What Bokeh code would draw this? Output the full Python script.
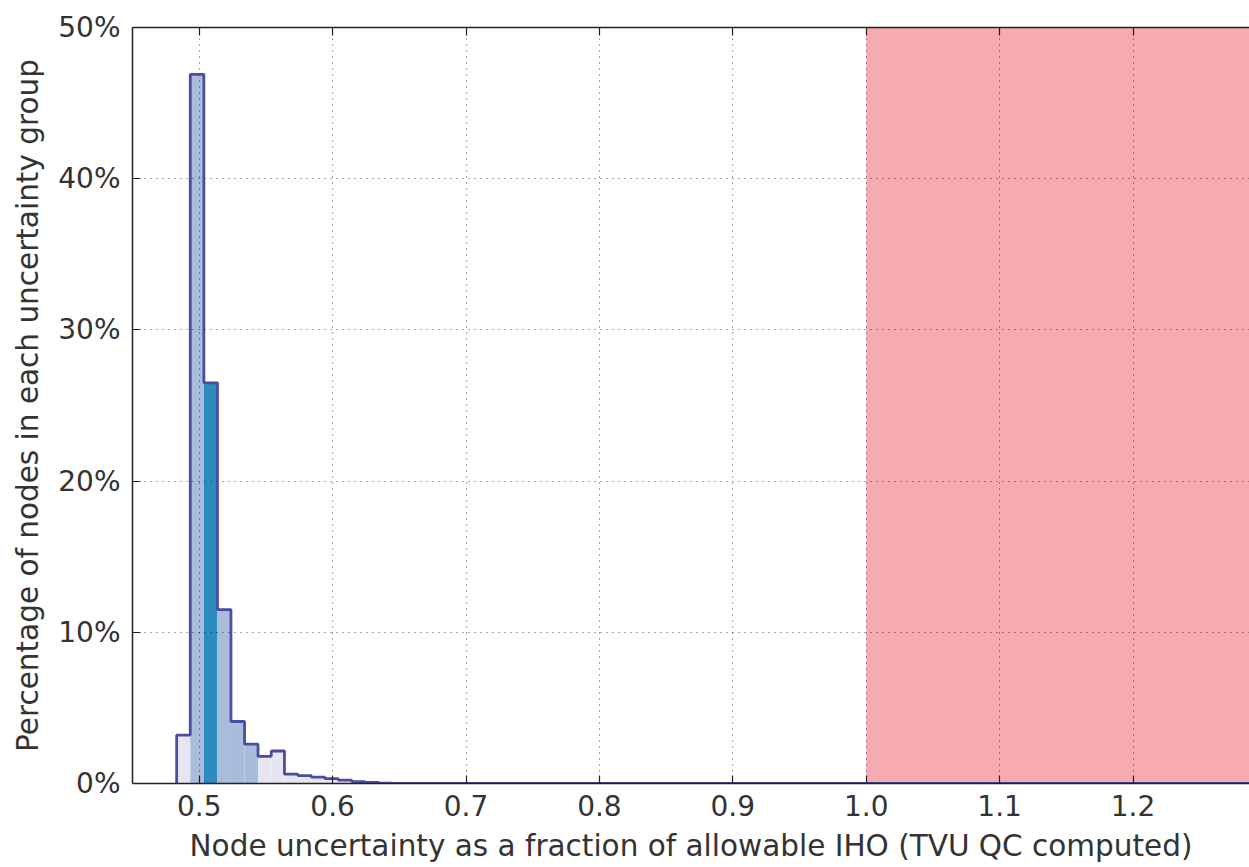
from bokeh.plotting import figure
from bokeh.models import (Range1d, LinearAxis, BoxAnnotation, PrintfTickFormatter,
                          FixedTicker, ColumnDataSource)
from bokeh.embed import file_html
from bokeh.resources import INLINE

# ---- data ----
bin_edges = [0.4831, 0.4933, 0.5035, 0.5137, 0.5238, 0.5340, 0.5441, 0.5540, 0.5639,
             0.5740, 0.5841, 0.5942, 0.6043, 0.6144, 0.6245, 0.6346, 0.6447, 0.6548]
pct_nodes = [3.2, 46.9, 26.5, 11.5, 4.1, 2.6, 1.8, 2.15,
             0.62, 0.52, 0.42, 0.32, 0.22, 0.12, 0.07, 0.03, 0.01]
bin_group = ["outer", "inner", "center", "inner", "inner", "inner", "outer", "outer",
             "outer", "outer", "outer", "outer", "outer", "outer", "outer", "outer", "outer"]
fail_threshold = 1.0
x_ticks = [0.5, 0.6, 0.7, 0.8, 0.9, 1.0, 1.1, 1.2]
y_ticks = [0, 10, 20, 30, 40, 50]

group_colors = {"outer": "#e8e5f2", "inner": "#a9bcdc", "center": "#2c8bbf"}
OUTLINE = "#4b4e9e"
FONT = "DejaVu Sans"
TXT = "#333333"

x_start, x_end = 0.45, 1.2873

p = figure(frame_width=1117, frame_height=756, output_backend="svg", toolbar_location=None,
           x_range=Range1d(x_start, x_end), y_range=Range1d(0, 50),
           min_border_left=132, min_border_right=0, min_border_top=27, min_border_bottom=84,
           background_fill_color="white", border_fill_color="white")
p.outline_line_color = None

# failing region
p.add_layout(BoxAnnotation(left=fail_threshold, fill_color="#f5abaf", fill_alpha=1.0,
                           line_color=None, level="underlay"))

# histogram fills
src = ColumnDataSource(dict(
    left=bin_edges[:-1], right=bin_edges[1:], top=pct_nodes,
    color=[group_colors[g] for g in bin_group]))
p.quad(left="left", right="right", top="top", bottom=0, fill_color="color",
       line_color=None, source=src)

# step outline
xs, ys = [bin_edges[0]], [0]
for i, h in enumerate(pct_nodes):
    xs += [bin_edges[i], bin_edges[i + 1]]
    ys += [h, h]
xs += [bin_edges[-1], x_end]
ys += [0, 0]
p.line(xs, ys, line_color=OUTLINE, line_width=2.8)

# grid
for g in (p.xgrid, p.ygrid):
    g.grid_line_color = "#222222"
    g.grid_line_dash = "1 5"
    g.grid_line_width = 1
    g.grid_line_alpha = 0.8
    g.level = "overlay"
p.xgrid.ticker = FixedTicker(ticks=x_ticks)
p.ygrid.ticker = FixedTicker(ticks=y_ticks)

def style_axis(ax):
    ax.axis_line_color = "#222222"
    ax.axis_line_width = 1.5
    ax.major_tick_in = 8
    ax.major_tick_out = 0
    ax.major_tick_line_color = "#222222"
    ax.major_tick_line_width = 1.2
    ax.minor_tick_line_color = None
    ax.major_label_text_font = FONT
    ax.major_label_text_font_size = "28px"
    ax.major_label_text_color = TXT
    ax.axis_label_text_font = FONT
    ax.axis_label_text_font_size = "29.5px"
    ax.axis_label_text_font_style = "normal"
    ax.axis_label_text_color = TXT

xa = p.xaxis[0]
xa.ticker = FixedTicker(ticks=x_ticks)
xa.formatter = PrintfTickFormatter(format="%.1f")
xa.axis_label = "Node uncertainty as a fraction of allowable IHO (TVU QC computed)"
style_axis(xa)
xa.major_label_standoff = 11
xa.axis_label_standoff = 10

ya = p.yaxis[0]
ya.ticker = FixedTicker(ticks=y_ticks)
ya.formatter = PrintfTickFormatter(format="%d%%")
ya.axis_label = "Percentage of nodes in each uncertainty group"
style_axis(ya)
ya.major_label_standoff = 12
ya.axis_label_standoff = 10

top_ax = LinearAxis(ticker=FixedTicker(ticks=x_ticks),
                    major_label_overrides={t: "" for t in x_ticks})
style_axis(top_ax)
top_ax.major_label_standoff = 0
p.add_layout(top_ax, "above")

open("out.html", "w").write(file_html(p, INLINE))
